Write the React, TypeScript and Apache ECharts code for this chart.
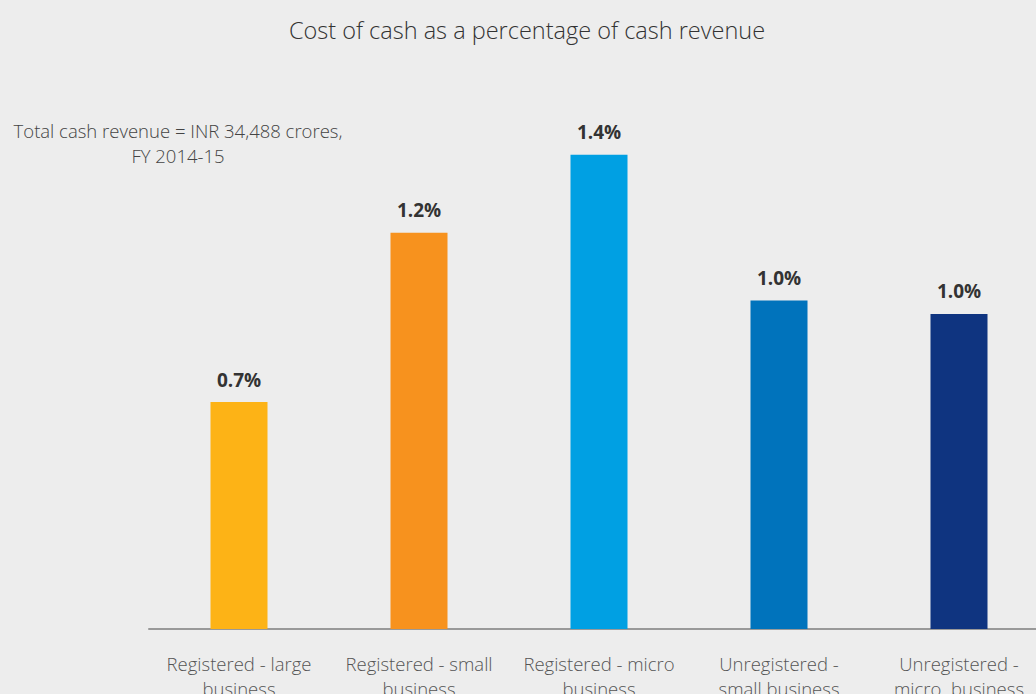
import React, { useEffect, useRef } from "react";
import * as echarts from "echarts";

const categories = [
  "Registered - large\nbusiness",
  "Registered - small\nbusiness",
  "Registered - micro\nbusiness",
  "Unregistered -\nsmall business",
  "Unregistered -\nmicro  business",
];
const values = [0.67, 1.17, 1.4, 0.97, 0.93];
const valueLabels = ["0.7%", "1.2%", "1.4%", "1.0%", "1.0%"];
const barColors = ["#FDB316", "#F7921E", "#00A0E3", "#0073BC", "#0F3480"];

const FONT = "'Open Sans', 'Noto Sans', sans-serif";

export default function App() {
  const ref = useRef<HTMLDivElement>(null);
  useEffect(() => {
    if (!ref.current) return;
    const chart = echarts.init(ref.current, null, { renderer: "svg" });
    chart.setOption({
      animation: false,
      backgroundColor: "#ededed",
      title: {
        text: "Cost of cash as a percentage of cash revenue",
        left: 522,
        textAlign: "center",
        top: 13,
        textStyle: { fontFamily: FONT, fontSize: 23.5, fontWeight: 300, color: "#333" },
      },
      graphic: [
        {
          type: "text",
          x: 178,
          y: 118,
          style: {
            text: "Total cash revenue = INR 34,488 crores,\nFY 2014-15",
            fontFamily: FONT,
            fontSize: 18.5,
            fontWeight: 300,
            fill: "#444",
            align: "center",
            lineHeight: 25,
          },
        },
      ],
      grid: { left: 149, width: 900, top: 87, bottom: 65, outerBoundsMode: "none", containLabel: false },
      xAxis: {
        type: "category",
        data: categories,
        axisLine: { lineStyle: { color: "#999", width: 2 } },
        axisTick: { show: false },
        axisLabel: {
          interval: 0,
          margin: 22,
          fontFamily: FONT,
          fontSize: 18.5,
          fontWeight: 300,
          color: "#555",
          lineHeight: 25,
        },
      },
      yAxis: {
        type: "value",
        min: 0,
        max: 1.6,
        show: false,
        splitLine: { show: false },
      },
      series: [
        {
          type: "bar",
          barWidth: 57,
          data: values.map((v, i) => ({
            value: v,
            itemStyle: { color: barColors[i] },
            label: { formatter: valueLabels[i] },
          })),
          label: {
            show: true,
            position: "top",
            distance: 13,
            fontFamily: FONT,
            fontSize: 19,
            fontWeight: "bold",
            color: "#333",
          },
        },
      ],
    });
    return () => chart.dispose();
  }, []);
  return (
    <div
      ref={ref}
      style={{ position: "fixed", left: 0, top: 0, width: 1036, height: 694 }}
    />
  );
}
